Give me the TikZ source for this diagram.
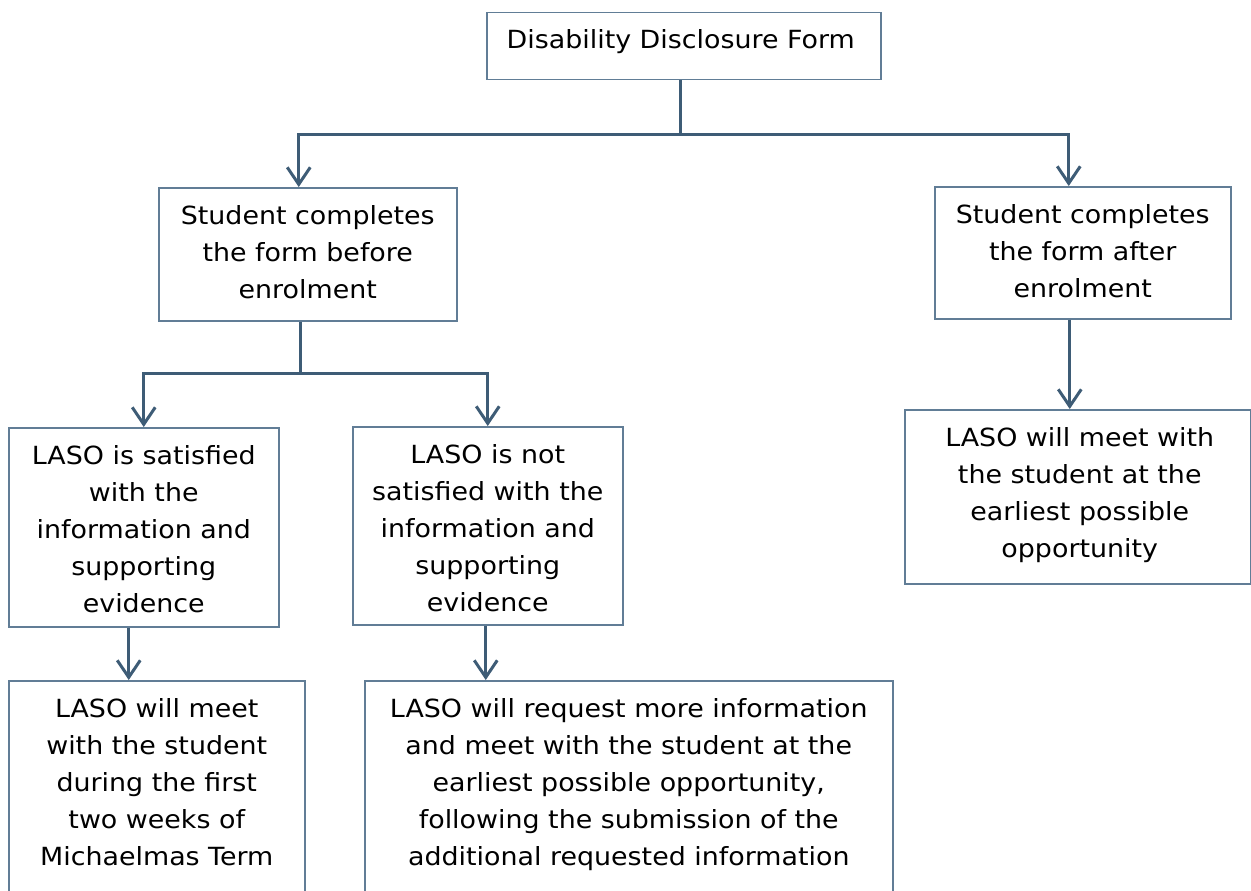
\documentclass[tikz,border=0pt]{standalone}
\usepackage{fontspec}
\setmainfont{DejaVu Sans}[FakeStretch=1.075]
\usetikzlibrary{arrows.meta}
\definecolor{boxc}{RGB}{97,125,150}
\definecolor{arrc}{RGB}{62,92,118}
\tikzset{
  box/.style={draw=boxc, line width=1.5pt, rectangle, inner sep=0pt, anchor=north west},
  txt/.style={anchor=north, inner sep=0pt, align=center, font=\fontsize{25}{37}\selectfont},
  conn/.style={draw=arrc, line width=3pt},
  arr/.style={conn, -{Straight Barb[length=17pt,width=23pt]}}
}
\begin{document}
\begin{tikzpicture}[x=1pt,y=-1pt]
\useasboundingbox (0,0) rectangle (1251,891);
\clip (0,0) rectangle (1251,891);
% boxes
\node[box, minimum width=394pt, minimum height=67pt] (top) at (486,12) {};
\node[box, minimum width=298pt, minimum height=133pt] (A) at (158,187) {};
\node[box, minimum width=296pt, minimum height=132pt] (B) at (934,186) {};
\node[box, minimum width=270pt, minimum height=199pt] (C) at (8,427) {};
\node[box, minimum width=270pt, minimum height=198pt] (D) at (352,426) {};
\node[box, minimum width=346pt, minimum height=174pt] (E) at (904,409) {};
\node[box, minimum width=296pt, minimum height=240pt] (F) at (8,680) {};
\node[box, minimum width=528pt, minimum height=240pt] (G) at (364,680) {};
% texts
\node[txt] (ttop) at ([xshift=-3pt,yshift=-10pt]top.north) {\strut Disability Disclosure Form};
\node[txt] (tA) at ([yshift=-11pt]A.north) {\strut Student completes\\the form before\\enrolment};
\node[txt] (tB) at ([yshift=-11pt]B.north) {\strut Student completes\\the form after\\enrolment};
\node[txt] (tC) at ([yshift=-11pt]C.north) {\strut LASO is satisfied\\with the\\information and\\supporting\\evidence};
\node[txt] (tD) at ([yshift=-11pt]D.north) {\strut LASO is not\\satisfied with the\\information and\\supporting\\evidence};
\node[txt] (tE) at ([xshift=2pt,yshift=-11pt]E.north) {\strut LASO will meet with\\the student at the\\earliest possible\\opportunity};
\node[txt] (tF) at ([yshift=-11pt]F.north) {\strut LASO will meet\\with the student\\during the first\\two weeks of\\Michaelmas Term};
\node[txt] (tG) at ([yshift=-11pt]G.north) {\strut LASO will request more information\\and meet with the student at the\\earliest possible opportunity,\\following the submission of the\\additional requested information};
% connectors
\draw[conn] ([xshift=-3pt]top.south) -- ++(0,54) coordinate (j1);
\draw[arr] (j1) -| ([xshift=-9pt]A.north);
\draw[arr] (j1) -| ([xshift=-14pt]B.north);
\draw[conn] ([xshift=-7pt]A.south) -- ++(0,52) coordinate (j2);
\draw[arr] (j2) -| (C.north);
\draw[arr] (j2) -| (D.north);
\draw[arr] ([xshift=-13pt]B.south) -- ([xshift=-13pt]B.south |- E.north);
\draw[arr] ([xshift=-15pt]C.south) -- ([xshift=-15pt]C.south |- F.north);
\draw[arr] ([xshift=-2pt]D.south) -- ([xshift=-2pt]D.south |- G.north);
\end{tikzpicture}
\end{document}
